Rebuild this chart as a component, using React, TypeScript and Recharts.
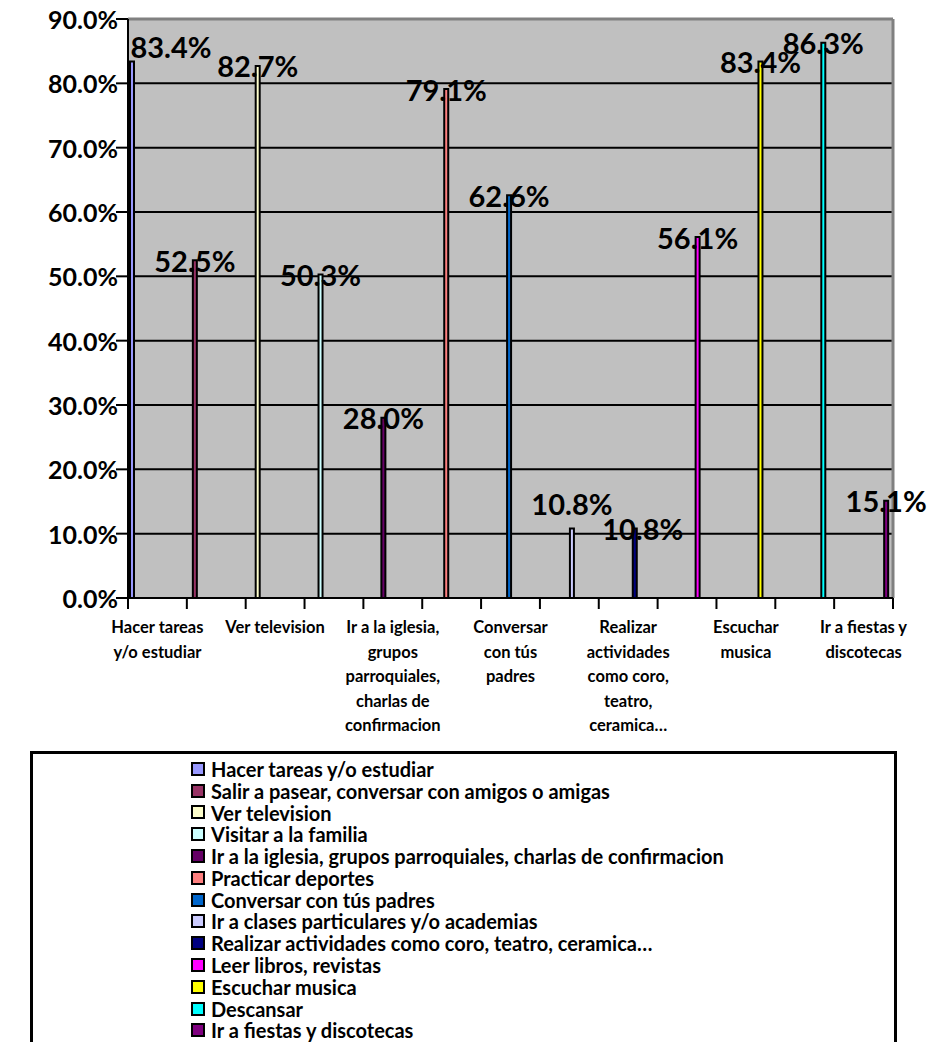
import React from 'react'
import { BarChart, Bar, XAxis, YAxis, CartesianGrid, ReferenceLine, LabelList, Legend } from 'recharts'

const categories = [
  'Hacer tareas y/o estudiar',
  'Salir a pasear, conversar con amigos o amigas',
  'Ver television',
  'Visitar a la familia',
  'Ir a la iglesia, grupos parroquiales, charlas de confirmacion',
  'Practicar deportes',
  'Conversar con tús padres',
  'Ir a clases particulares y/o academias',
  'Realizar actividades como coro, teatro, ceramica…',
  'Leer libros, revistas',
  'Escuchar musica',
  'Descansar',
  'Ir a fiestas y discotecas',
]

const values = [83.4, 52.5, 82.7, 50.3, 28.0, 79.1, 62.6, 10.8, 10.8, 56.1, 83.4, 86.3, 15.1]

const colors = [
  '#9999FF', '#993366', '#FFFFCC', '#CCFFFF', '#660066', '#FF8080', '#0066CC',
  '#CCCCFF', '#000080', '#FF00FF', '#FFFF00', '#00FFFF', '#800080',
]

const yTicks = [0, 10, 20, 30, 40, 50, 60, 70, 80, 90]

// axis text, only every other category is labelled
const xTickLines: string[][] = [
  ['Hacer tareas', 'y/o estudiar'],
  [],
  ['Ver television'],
  [],
  ['Ir a la iglesia,', 'grupos', 'parroquiales,', 'charlas de', 'confirmacion'],
  [],
  ['Conversar', 'con tús', 'padres'],
  [],
  ['Realizar', 'actividades', 'como coro,', 'teatro,', 'ceramica…'],
  [],
  ['Escuchar', 'musica'],
  [],
  ['Ir a fiestas y', 'discotecas'],
]

const data = categories.map((name, i) => {
  const row: Record<string, any> = { name }
  row['s' + i] = values[i]
  return row
})

const FONT = 'Lato, "Open Sans", sans-serif'
const W = 929
const H = 1042
const LEFT = 128
const RIGHT = 36
const PLOT_W = W - LEFT - RIGHT
const BAND = PLOT_W / categories.length

// nudges for labels that were moved by hand in the original
const labelShift: Record<number, [number, number]> = { 0: [39, -15], 7: [0, -25], 8: [8, 0] }

function XTick(props: any) {
  const { x, y, index } = props
  const lines = xTickLines[index] || []
  const last = index === categories.length - 1
  return (
    <g>
      <line x1={x - BAND / 2} x2={x - BAND / 2} y1={y} y2={y + 11} stroke="#000" strokeWidth={2} />
      {last && <line x1={x + BAND / 2} x2={x + BAND / 2} y1={y} y2={y + 11} stroke="#000" strokeWidth={2} />}
      {lines.map((t, k) => (
        <text key={k} x={x} y={y + 29 + k * 24.5} textAnchor="middle" dominantBaseline="central"
          fontFamily={FONT} fontWeight={700} fontSize={16.5} fill="#000">{t}</text>
      ))}
    </g>
  )
}

function YTick(props: any) {
  const { x, y, payload } = props
  return (
    <text x={x + 4} y={y} textAnchor="end" dominantBaseline="central"
      fontFamily={FONT} fontWeight={700} fontSize={25} fill="#000">
      {payload.value.toFixed(1) + '%'}
    </text>
  )
}

function renderLabel(p: any, i: number) {
  if (p.value == null) return null
  const [dx, dy] = labelShift[i] || [0, 0]
  return (
    <text x={p.x + p.width / 2 + dx} y={p.y + dy} textAnchor="middle" dominantBaseline="central"
      fontFamily={FONT} fontWeight={700} fontSize={29} fill="#000">
      {p.value.toFixed(1) + '%'}
    </text>
  )
}

function LegendBox() {
  return (
    <div style={{ width: '100%', height: '100%', boxSizing: 'border-box', border: '3px solid #000', paddingLeft: 158, paddingTop: 4 }}>
      {categories.map((name, i) => (
        <div key={name} style={{ display: 'flex', alignItems: 'center', height: 21.8, fontFamily: FONT, fontWeight: 700, fontSize: 20, color: '#000', whiteSpace: 'nowrap' }}>
          <span style={{ display: 'inline-block', width: 14, height: 14, boxSizing: 'border-box', border: '2px solid #000', background: colors[i], marginRight: 6, flex: 'none' }} />
          <span>{name}</span>
        </div>
      ))}
    </div>
  )
}

export default function App() {
  return (
    <div style={{ position: 'absolute', left: 0, top: 0 }}>
      <BarChart width={W} height={H} data={data} margin={{ top: 19, right: RIGHT, left: 0, bottom: 294 }} barCategoryGap={2} barGap={0}>
        <CartesianGrid vertical={false} stroke="#000" strokeWidth={2} fill="#C0C0C0" fillOpacity={1} />
        <XAxis dataKey="name" height={150} interval={0} tick={<XTick />} tickLine={false} tickSize={0} tickMargin={0}
          axisLine={{ stroke: '#000', strokeWidth: 2 }} />
        <YAxis width={LEFT} domain={[0, 90]} ticks={yTicks} interval={0} tick={<YTick />}
          tickLine={{ stroke: '#000', strokeWidth: 2 }} tickSize={12} axisLine={{ stroke: '#000', strokeWidth: 2 }} />
        <ReferenceLine y={90} stroke="#808080" strokeWidth={3} />
        <ReferenceLine x={categories[categories.length - 1]} position="end" stroke="#808080" strokeWidth={3} />
        {values.map((_, i) => (
          <Bar key={i} dataKey={'s' + i} name={categories[i]} fill={colors[i]} stroke="#000" strokeWidth={2} isAnimationActive={false}>
            <LabelList dataKey={'s' + i} content={(p: any) => renderLabel(p, i)} />
          </Bar>
        ))}
        <Legend layout="horizontal" verticalAlign="middle" content={<LegendBox />}
          wrapperStyle={{ left: 30, top: 751, width: 867, height: 300 }} />
      </BarChart>
    </div>
  )
}
